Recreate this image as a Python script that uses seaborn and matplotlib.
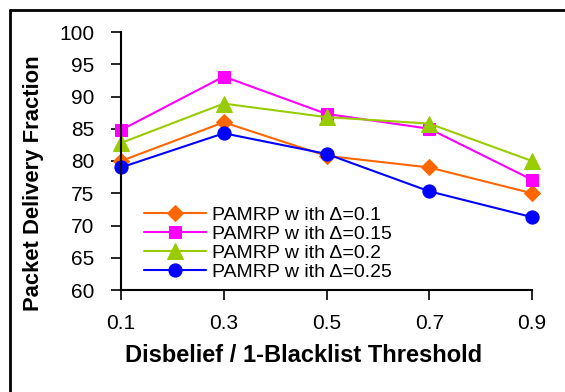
import matplotlib
matplotlib.use("Agg")
import matplotlib.pyplot as plt
import seaborn as sns
import pandas as pd
from matplotlib.lines import Line2D

thresholds = [0.1, 0.3, 0.5, 0.7, 0.9]
pdf_d010 = [80.0, 86.0, 80.8, 79.0, 75.0]
pdf_d015 = [84.8, 93.1, 87.3, 85.0, 77.1]
pdf_d020 = [82.8, 88.9, 86.8, 85.8, 80.0]
pdf_d025 = [79.0, 84.3, 81.1, 75.3, 71.3]
labels = ["PAMRP w ith Δ=0.1", "PAMRP w ith Δ=0.15", "PAMRP w ith Δ=0.2", "PAMRP w ith Δ=0.25"]
y_ticks = [60, 65, 70, 75, 80, 85, 90, 95, 100]
x_ticks = thresholds

sns.set_theme(style="white")
plt.rcParams['font.family'] = ['Liberation Sans', 'DejaVu Sans']
plt.rcParams['text.color'] = 'black'
plt.rcParams['axes.labelcolor'] = 'black'

W, H = 565, 392
fig = plt.figure(figsize=(W/100, H/100), dpi=100)
ax = fig.add_axes([121/W, 1 - 290/H, (532-121)/W, (290-32)/H])

colors = ["#FF6600", "#FF00FF", "#99CC00", "#0000FF"]
markers = ["D", "s", "^", "o"]
msizes = [8, 9.3, 11.5, 9.5]
series = [pdf_d010, pdf_d015, pdf_d020, pdf_d025]
for vals, lab, c, m, ms in zip(series, labels, colors, markers, msizes):
    df = pd.DataFrame({"x": thresholds, "y": vals})
    sns.lineplot(data=df, x="x", y="y", ax=ax, color=c, marker=m, markersize=ms,
                 markeredgecolor=c, linewidth=1.5, label=lab, clip_on=False)

ax.set_xlim(0.1, 0.9)
ax.set_ylim(60, 100)
ax.set_xticks(x_ticks)
ax.set_xticklabels([f"{v:.1f}" for v in x_ticks])
ax.set_yticks(y_ticks)
ax.tick_params(axis="both", which="both", direction="out", length=7, width=1.2,
               color="black", labelsize=15, labelcolor="black", left=True, bottom=True)
ax.tick_params(axis="x", pad=10)
ax.tick_params(axis="y", pad=12)
for s in ["top", "right"]:
    ax.spines[s].set_visible(False)
for s in ["left", "bottom"]:
    ax.spines[s].set_color("black")
    ax.spines[s].set_linewidth(1.5)

ax.set_xlabel("Disbelief / 1-Blacklist Threshold", fontsize=17, fontweight="bold", color="black")
ax.xaxis.set_label_coords((303.5 - 121) / 411, -(362 - 290) / 258)
ax.xaxis.label.set_va("baseline")
ax.set_ylabel("Packet Delivery Fraction", fontsize=15.8, fontweight="bold", color="black")
ax.yaxis.set_label_coords((34 - 121) / 411, (290 - 183) / 258)
ax.yaxis.label.set_va("center")

leg = ax.legend(loc="lower left", bbox_to_anchor=(23/411, 9/258), frameon=False, fontsize=14,
                handlelength=3.2, handletextpad=0.3, labelspacing=0.08, borderaxespad=0,
                borderpad=0)
for t in leg.get_texts():
    t.set_color("black")

fig.add_artist(Line2D([10/W, 1.0], [1 - 10/H, 1 - 10/H], transform=fig.transFigure,
                      color="black", linewidth=2))
fig.add_artist(Line2D([10/W, 10/W], [0, 1 - 10/H], transform=fig.transFigure,
                      color="black", linewidth=2))

fig.savefig("out.png", dpi=100)
